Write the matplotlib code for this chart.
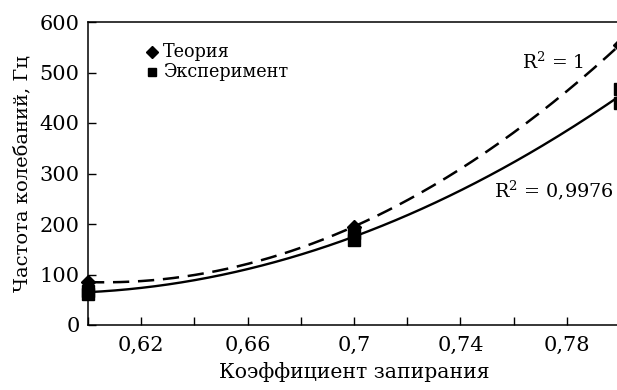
import numpy as np
import matplotlib
matplotlib.use("Agg")
from matplotlib import pyplot as plt
from matplotlib.ticker import FuncFormatter

plt.rcParams['font.family'] = ['DejaVu Serif']
plt.rcParams['mathtext.fontset'] = 'dejavuserif'

# theory points
x_theory = [0.6, 0.7, 0.8]
y_theory = [85, 195, 555]

# experiment points (repeated measurements)
x_exp = [0.6, 0.6, 0.7, 0.7, 0.8, 0.8]
y_exp = [62, 68, 168, 182, 440, 468]

fig = plt.figure(figsize=(6.17, 3.9), dpi=100)
ax = fig.add_axes([88 / 617, 1 - 325 / 390, (620 - 88) / 617, 303 / 390])

xs = np.linspace(0.6, 0.8, 200)
p_th = np.polyfit(x_theory, y_theory, 2)
p_ex = np.polyfit(x_exp, y_exp, 2)
ax.plot(xs, np.polyval(p_th, xs), color="black", lw=1.8, ls=(0, (6.5, 3.5)))
ax.plot(xs, np.polyval(p_ex, xs), color="black", lw=1.7)

ax.plot(x_exp, y_exp, "s", color="black", ms=8, clip_on=False, zorder=3)
ax.plot(x_theory, y_theory, "D", color="black", ms=7, clip_on=False, zorder=4)

ax.set_xlim(0.6, 0.8)
ax.set_ylim(0, 600)
ax.set_xticks([0.62, 0.66, 0.7, 0.74, 0.78])
ax.set_xticks(np.arange(0.6, 0.801, 0.02), minor=True)
ax.set_yticks(range(0, 601, 100))
ax.xaxis.set_major_formatter(FuncFormatter(lambda v, p: ("%g" % round(v, 2)).replace(".", ",")))
ax.tick_params(which="both", direction="in", length=6, width=1, labelsize=15, pad=6)
ax.tick_params(axis="x", which="both", pad=8)
for s in ax.spines.values():
    s.set_linewidth(1.1)

ax.set_xlabel("Коэффициент запирания", fontsize=14.7, labelpad=5)
ax.set_ylabel("Частота колебаний, Гц", fontsize=14, labelpad=6)

ax.plot([0.6242], [540], "D", color="black", ms=6)
ax.text(0.6283, 540, "Теория", fontsize=12.7, va="center")
ax.plot([0.6242], [501], "s", color="black", ms=6)
ax.text(0.6283, 501, "Эксперимент", fontsize=12.7, va="center")

ax.text(0.7630, 521, "R$^2$ = 1", fontsize=13.5, va="center")
ax.text(0.7528, 267, "R$^2$ = 0,9976", fontsize=13.8, va="center")

fig.savefig("out.png", dpi=100)
